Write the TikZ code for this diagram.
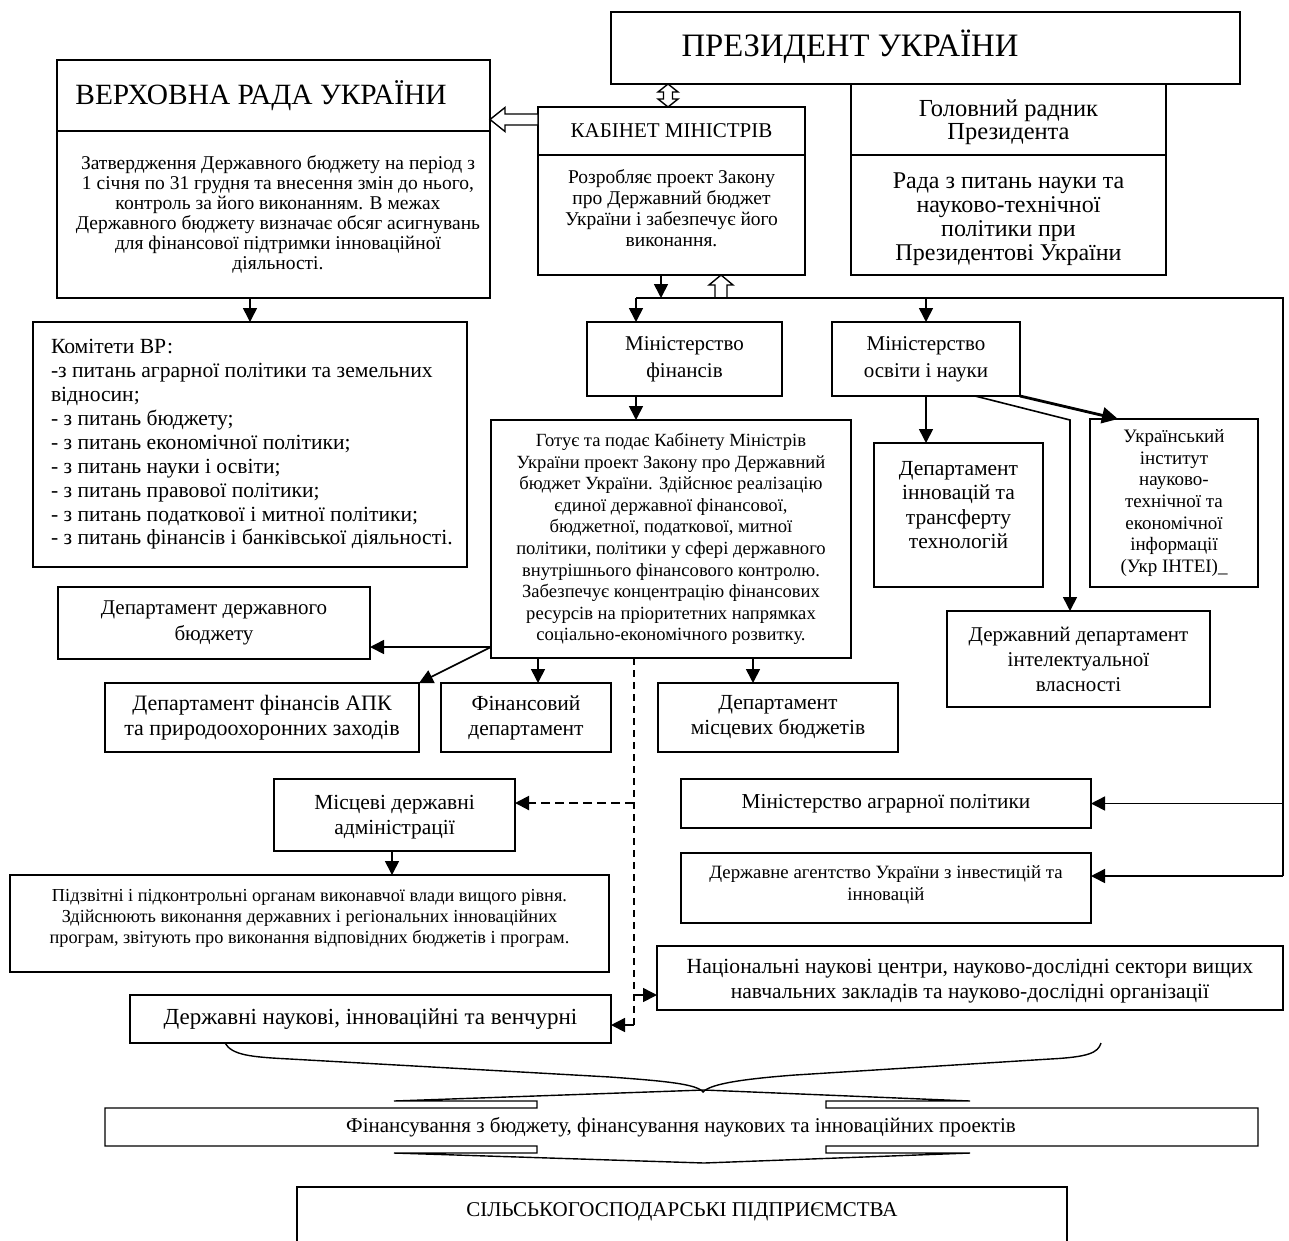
\documentclass[tikz,border=0pt]{standalone}
\usepackage{fontspec}
\setmainfont{Liberation Serif}
\usetikzlibrary{arrows.meta,calc}
\newcommand\myfs[2]{\fontsize{#1}{#2}\selectfont}
\begin{document}
\begin{tikzpicture}[x=1pt,y=-1pt,
  box/.style={draw,line width=1.6pt,inner sep=0pt,outer sep=0pt,align=center},
  lbl/.style={inner sep=0pt,outer sep=0pt,align=center},
  conn/.style={line width=1.6pt},
  arr/.style={line width=1.6pt,-{Triangle[width=14pt,length=14pt]}},
  arrthick/.style={line width=2.8pt,-{Triangle[width=16pt,length=16pt]}},
  dline/.style={line width=1.3pt,dash pattern=on 7pt off 5pt},
  darr/.style={line width=2pt,dash pattern=on 9pt off 5pt,-{Triangle[width=14pt,length=14pt]}},
  hol/.style={draw,line width=1.4pt,fill=white,line join=miter},
]
\clip (0,0) rectangle (1289,1240);
\fill[white] (0,0) rectangle (1289,1240);

% guide coordinates
\coordinate (bL) at (636,298);
\coordinate (bR) at (1283,298);
\coordinate (k1) at (661,298);
\coordinate (r2) at (1283,876);
\coordinate (x538) at (538,0);
\coordinate (x753) at (753,0);
\coordinate (x392) at (392,0);
\coordinate (m0) at (975,396);
\coordinate (m1) at (1070,420);
\coordinate (u1) at (1118,419);
\coordinate (g1) at (491,647);
\coordinate (d0) at (634,658);
\coordinate (d1) at (634,803);
\coordinate (d2) at (634,995);
\coordinate (d3) at (634,1025);

% President
\node[box,minimum width=629pt,minimum height=72pt] (pres) at (925.5,48) {};
\node[lbl,font=\myfs{32.7}{36}] (presT) at (850,47) {ПРЕЗИДЕНТ УКРАЇНИ};

% Verkhovna Rada
\node[box,minimum width=433pt,minimum height=71pt] (vrT) at (273.5,95.5) {};
\node[lbl,font=\myfs{29.4}{32}] (vrTT) at (261,96) {ВЕРХОВНА РАДА УКРАЇНИ};
\node[box,minimum width=433pt,minimum height=167pt] (vrB) at (273.5,214.5) {};
\node[lbl,font=\myfs{19.5}{20}] (vrBT) at (278,214) {Затвердження Державного бюджету на період з\\1 січня по 31 грудня та внесення змін до нього,\\контроль за його виконанням. В межах\\Державного бюджету визначає обсяг асигнувань\\для фінансової підтримки інноваційної\\діяльності.};

% Cabinet
\node[box,minimum width=267pt,minimum height=48pt,font=\myfs{21}{24}] (kmT) at (671.5,131) {КАБІНЕТ МІНІСТРІВ};
\node[box,minimum width=267pt,minimum height=120pt] (kmB) at (671.5,215) {};
\node[lbl,font=\myfs{19.5}{21}] (kmBT) at (671.5,208) {Розробляє проект Закону\\про Державний бюджет\\України і забезпечує його\\виконання.};

% Head adviser
\node[box,minimum width=315pt,minimum height=71pt] (grT) at (1008.5,119.5) {};
\node[lbl,font=\myfs{24.5}{22.5}] (grTT) at (1008.5,122) {Головний радник\\Президента};
\node[box,minimum width=315pt,minimum height=120pt] (grB) at (1008.5,215) {};
\node[lbl,font=\myfs{24}{24}] (grBT) at (1008.5,219) {Рада з питань науки та\\науково-технічної\\політики при\\Президентові України};

% Committees
\node[box,minimum width=434pt,minimum height=245pt] (kom) at (250,444.5) {};
\node[lbl,anchor=west,align=left,font=\myfs{21.6}{23.9}] (komT) at (51,444.5) {Комітети ВР:\\-з питань аграрної політики та земельних\\відносин;\\- з питань бюджету;\\- з питань економічної політики;\\- з питань науки і освіти;\\- з питань правової політики;\\- з питань податкової і митної політики;\\- з питань фінансів і банківської діяльності.};

% Ministries
\node[box,minimum width=195pt,minimum height=74pt,font=\myfs{21}{27}] (mf) at (684.5,359) {Міністерство\\фінансів};
\node[box,minimum width=188pt,minimum height=74pt,font=\myfs{21}{27}] (mo) at (926,359) {Міністерство\\освіти і науки};

\node[box,minimum width=360pt,minimum height=238pt,font=\myfs{18.6}{21.6}] (got) at (671,539) {Готує та подає Кабінету Міністрів\\України проект Закону про Державний\\бюджет України. Здійснює реалізацію\\єдиної державної фінансової,\\бюджетної, податкової, митної\\політики, політики у сфері державного\\внутрішнього фінансового контролю.\\Забезпечує концентрацію фінансових\\ресурсів на пріоритетних напрямках\\соціально-економічного розвитку.};

\node[box,minimum width=169pt,minimum height=144pt] (dinn) at (958.5,515) {};
\node[lbl,font=\myfs{21.5}{24.5}] (dinnT) at (958.5,505) {Департамент\\інновацій та\\трансферту\\технологій};
\node[box,minimum width=168pt,minimum height=168pt,font=\myfs{19}{21.7}] (ukr) at (1174,503) {Український\\інститут\\науково-\\технічної та\\економічної\\інформації\\(Укр ІНТЕІ)\_};
\node[box,minimum width=263pt,minimum height=96pt,font=\myfs{21}{25}] (dip) at (1078.5,659) {Державний департамент\\інтелектуальної\\власності};

% Departments of finance ministry
\node[box,minimum width=312pt,minimum height=72pt,font=\myfs{21}{26.5}] (ddb) at (214,623) {Департамент державного\\бюджету};
\node[box,minimum width=314pt,minimum height=69pt,font=\myfs{22}{25}] (apk) at (262,717.5) {Департамент фінансів АПК\\та природоохоронних заходів};
\node[box,minimum width=170pt,minimum height=69pt,font=\myfs{21.5}{25}] (fin) at (526,717.5) {Фінансовий\\департамент};
\node[box,minimum width=240pt,minimum height=69pt,font=\myfs{21.5}{25}] (dmb) at (778,717.5) {Департамент\\місцевих бюджетів};

% Local
\node[box,minimum width=241pt,minimum height=72pt] (mda) at (394.5,815) {};
\node[lbl,font=\myfs{21.5}{25}] (mdaT) at (394.5,817) {Місцеві державні\\адміністрації};
\node[box,minimum width=599pt,minimum height=97pt] (pid) at (309.5,923.5) {};
\node[lbl,font=\myfs{18.3}{21}] (pidT) at (309.5,918) {Підзвітні і підконтрольні органам виконавчої влади вищого рівня.\\Здійснюють виконання державних і регіональних інноваційних\\програм, звітують про виконання відповідних бюджетів і програм.};

\node[box,minimum width=410pt,minimum height=49pt,font=\myfs{21.3}{24}] (mag) at (886,803.5) {Міністерство аграрної політики};
\node[box,minimum width=410pt,minimum height=70pt] (dai) at (886,888) {};
\node[lbl,font=\myfs{18.8}{22}] (daiT) at (886,885) {Державне агентство України з інвестицій та\\інновацій};

\node[box,minimum width=626pt,minimum height=64pt] (nat) at (970,978) {};
\node[lbl,font=\myfs{21.6}{25}] (natT) at (970,981) {Національні наукові центри, науково-дослідні сектори вищих\\навчальних закладів та науково-дослідні організації};
\node[box,minimum width=481pt,minimum height=48pt,font=\myfs{23}{24}] (dnv) at (370.5,1019) {Державні наукові, інноваційні та венчурні};

% Financing callout
\draw[line width=1.4pt,line join=miter] (105,1108) -- (537,1108) -- (537,1101) -- (394,1101) -- (704,1090) -- (970,1101) -- (826,1101) -- (826,1108) -- (1258,1108) -- (1258,1146) -- (826,1146) -- (826,1153) -- (970,1153) -- (704,1163) -- (394,1153) -- (537,1153) -- (537,1146) -- (105,1146) -- cycle;
\node[lbl,font=\myfs{21}{22}] (fbox) at (681,1127) {Фінансування з бюджету, фінансування наукових та інноваційних проектів};

\node[box,line width=1.4pt,minimum width=770pt,minimum height=80pt] (sil) at (682,1227) {};
\node[lbl,font=\myfs{21}{22}] (silT) at (682,1212) {СІЛЬСЬКОГОСПОДАРСЬКІ ПІДПРИЄМСТВА};

% Brace
\draw[line width=1.4pt] (225,1043) .. controls (232,1055) and (250,1057) .. (290,1059) -- (610,1077) .. controls (665,1081) and (697,1084) .. (703,1092) .. controls (710,1084) and (742,1079) .. (795,1075) -- (1050,1059) .. controls (1088,1057) and (1098,1053) .. (1101,1043);

% Hollow arrows
\draw[hol] (668,84) -- (678,92) -- (672.5,92) -- (672.5,99) -- (678,99) -- (668,107) -- (658,99) -- (663.5,99) -- (663.5,92) -- (658,92) -- cycle;
\draw[hol] (538,114) -- (505,114) -- (505,107.5) -- (490,119.5) -- (505,131.5) -- (505,125) -- (538,125) -- cycle;
\draw[hol] (715,298) -- (715,285) -- (709,285) -- (721,275) -- (733,285) -- (727,285) -- (727,298) -- cycle;

% Connectors
\draw[arr] (vrB.south -| kom.north) -- (kom.north);
\draw[arr] (kmB.south -| k1) -- (k1);
\draw[conn] (bL) -- (bR) -- (r2);
\draw[arr] (bL) -- (mf.north -| bL);
\draw[arr] (mo.north |- bL) -- (mo.north);
\draw[arr] (mf.south -| bL) -- (got.north -| bL);
\draw[arr] (mo.south) -- (dinn.north -| mo.south);
\draw[arr] (m0) -- (m1) -- (m1 |- dip.north);
\draw[arrthick] (mo.south east) -- (u1);
\draw[arr] (g1) -- (ddb.east |- g1);
\draw[arr] (g1) -- (apk.north east);
\draw[arr] (got.south -| x538) -- (fin.north -| x538);
\draw[arr] (got.south -| x753) -- (dmb.north -| x753);
\draw[dline] (d0) -- (d3);
\draw[darr] (d1) -- (mda.east |- d1);
\draw[arr] (d2) -- (nat.west |- d2);
\draw[arr] (d3) -- (dnv.east |- d3);
\draw[arr] (mda.south -| x392) -- (pid.north -| x392);
\draw[arr] (bR |- mag.east) -- (mag.east);
\draw[arr] (r2) -- (dai.east |- r2);
\end{tikzpicture}
\end{document}
